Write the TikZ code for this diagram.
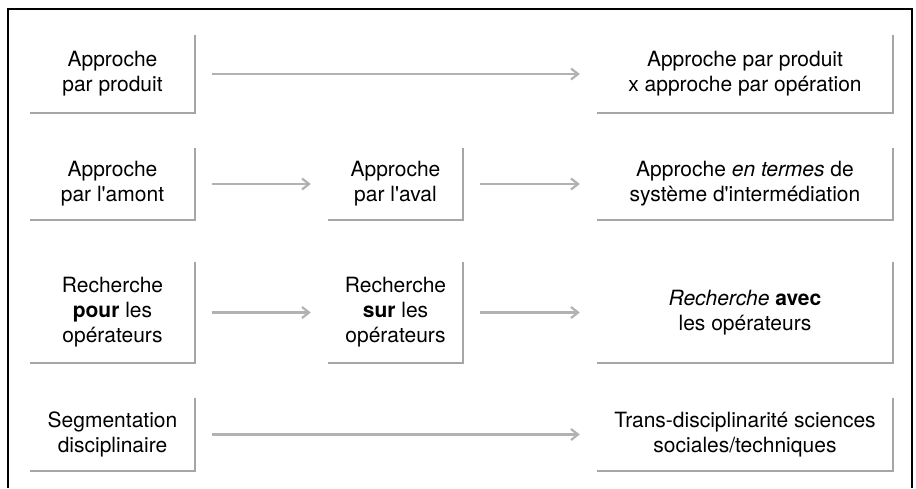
\documentclass[tikz,border=0pt]{standalone}
\usepackage{fontspec}
\setmainfont{TeX Gyre Heros}
\usetikzlibrary{arrows.meta}

\tikzset{
  box/.style={align=center,inner sep=0pt,font=\fontsize{21}{25}\selectfont},
  lbox/.style={box,minimum width=165pt},
  mbox/.style={box,minimum width=135pt},
  rbox/.style={box,minimum width=296pt},
  edge/.style={draw=gray!70,line width=2.5pt},
  flow/.style={gray!60,line width=2.2pt,-{Straight Barb[length=7pt,width=11pt]},
    shorten <=17pt,shorten >=17pt}
}

\begin{document}
\begin{tikzpicture}[x=1pt,y=-1pt]
  \useasboundingbox (0,0) rectangle (916,488);
  \draw[line width=1.2pt] (8,488) -- (8,9) -- (912,9) -- (912,488);
  % row 1
  \node[lbox,minimum height=78pt] (prod) at (112.5,74) {Approche\\par produit};
  \node[rbox,minimum height=78pt] (prodop) at (745,74) {Approche par produit\\x approche par op\'eration};
  % row 2
  \node[lbox,minimum height=72pt] (amont) at (112.5,184) {Approche\\par l\textquotesingle amont};
  \node[mbox,minimum height=72pt] (aval) at (395.5,184) {Approche\\par l\textquotesingle aval};
  \node[rbox,minimum height=72pt] (inter) at (745,184) {Approche \textit{en termes} de\\syst\`eme d\textquotesingle interm\'ediation};
  % row 3
  \node[lbox,minimum height=101pt] (pour) at (112.5,312.5) {Recherche\\\textbf{pour} les\\op\'erateurs};
  \node[mbox,minimum height=101pt] (sur) at (395.5,312.5) {Recherche\\\textbf{sur} les\\op\'erateurs};
  \node[rbox,minimum height=101pt] (avec) at (745,312.5) {\textit{Recherche} \textbf{avec}\\les op\'erateurs};
  % row 4
  \node[lbox,minimum height=73pt] (segm) at (112.5,434.5) {Segmentation\\disciplinaire};
  \node[rbox,minimum height=73pt] (trans) at (745,434.5) {Trans-disciplinarit\'e sciences\\sociales/techniques};
  \foreach \n in {prod,prodop,amont,aval,inter,pour,sur,avec,segm,trans}
    \draw[edge] (\n.north east) -- (\n.south east) -- (\n.south west);
  \draw[flow] (prod) -- (prodop);
  \draw[flow] (amont) -- (aval);
  \draw[flow] (aval) -- (inter);
  \draw[flow] (pour) -- (sur);
  \draw[flow] (sur) -- (avec);
  \draw[flow] (segm) -- (trans);
\end{tikzpicture}
\end{document}
